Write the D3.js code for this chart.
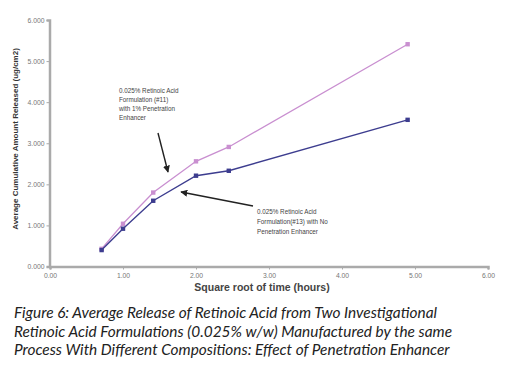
<!DOCTYPE html>
<html><head><meta charset="utf-8">
<script src="https://cdn.jsdelivr.net/npm/d3@7"></script>
<style>body{margin:0;background:#fff}svg{display:block}</style>
</head><body>
<script>
const xValues = [0.707, 1.0, 1.414, 2.0, 2.449, 4.899];
const enhancerValues = [0.43, 1.04, 1.80, 2.56, 2.91, 5.41];
const noEnhancerValues = [0.40, 0.92, 1.60, 2.21, 2.33, 3.57];
const xTicks = [0, 1, 2, 3, 4, 5, 6];
const yTicks = [0, 1, 2, 3, 4, 5, 6];
const yTitle = "Average Cumulative Amount Released (ug/cm2)";
const xTitle = "Square root of time (hours)";
const note1 = ["0.025% Retinoic Acid", "Formulation (#11)", "with 1% Penetration", "Enhancer"];
const note2 = ["0.025% Retinoic Acid", "Formulation(#13) with No", "Penetration Enhancer"];
const caption = ["Figure 6: Average Release of Retinoic Acid from Two Investigational",
  "Retinoic Acid Formulations (0.025% w/w) Manufactured by the same",
  "Process With Different Compositions: Effect of Penetration Enhancer"];

const W = 526, H = 366;
const svg = d3.select("body").append("svg").attr("width", W).attr("height", H);
const x = d3.scaleLinear().domain([0, 6]).range([50, 488]);
const y = d3.scaleLinear().domain([0, 6]).range([266.5, 20]);

const axisColor = "#aaa";
const gx = svg.append("g").attr("transform", "translate(0,266.5)")
  .call(d3.axisBottom(x).tickValues(xTicks).tickFormat(d3.format(".2f")).tickSize(3).tickPadding(4));
const gy = svg.append("g").attr("transform", "translate(49.5,0)")
  .call(d3.axisLeft(y).tickValues(yTicks).tickFormat(d3.format(".3f")).tickSize(3).tickPadding(2));
[gx, gy].forEach(g => {
  g.select(".domain").attr("stroke", axisColor).attr("stroke-width", 2.5);
  g.selectAll(".tick line").attr("stroke", axisColor).attr("stroke-width", 1);
  g.selectAll(".tick text").attr("fill", "#777").style("font-family", "Liberation Sans, Arial, sans-serif").style("font-size", "6.8px");
});

svg.append("text").attr("transform", "translate(18,139) rotate(-90)")
  .attr("text-anchor", "middle").style("font-family", "Liberation Sans, Arial, sans-serif")
  .style("font-size", "8px").style("font-weight", "bold").attr("fill", "#333").text(yTitle);
svg.append("text").attr("x", 262).attr("y", 291).attr("text-anchor", "middle")
  .style("font-family", "Liberation Sans, Arial, sans-serif").style("font-size", "10.5px")
  .style("font-weight", "bold").attr("fill", "#444").text(xTitle);

function series(vals, color, w) {
  const pts = xValues.map((v, i) => [v, vals[i]]);
  svg.append("path").datum(pts).attr("fill", "none").attr("stroke", color).attr("stroke-width", w)
    .attr("d", d3.line().x(d => x(d[0])).y(d => y(d[1])));
  svg.append("g").selectAll("rect").data(pts).join("rect")
    .attr("x", d => x(d[0]) - 2.2).attr("y", d => y(d[1]) - 2.2).attr("width", 4.4).attr("height", 4.4)
    .attr("fill", color);
}
series(enhancerValues, "#c98fd0", 1.3);
series(noEnhancerValues, "#3d3d8f", 1.4);

const defs = svg.append("defs");
defs.append("marker").attr("id", "ah").attr("viewBox", "0 0 10 10").attr("refX", 9).attr("refY", 5)
  .attr("markerWidth", 5).attr("markerHeight", 5).attr("orient", "auto")
  .append("path").attr("d", "M0,0L10,5L0,10z").attr("fill", "#222");

svg.append("line").attr("x1", 158).attr("y1", 133).attr("x2", 168).attr("y2", 172)
  .attr("stroke", "#222").attr("stroke-width", 1.4).attr("marker-end", "url(#ah)");
svg.append("line").attr("x1", 253).attr("y1", 206).attr("x2", 181).attr("y2", 192)
  .attr("stroke", "#222").attr("stroke-width", 1.4).attr("marker-end", "url(#ah)");

const nf = "Liberation Sans, Arial, sans-serif";
svg.append("g").selectAll("text").data(note1).join("text")
  .attr("x", 119).attr("y", (d, i) => 93 + i * 9).style("font-family", nf).style("font-size", "6.3px")
  .attr("fill", "#444").text(d => d);
svg.append("g").selectAll("text").data(note2).join("text")
  .attr("x", 257).attr("y", (d, i) => 214 + i * 10).style("font-family", nf).style("font-size", "6.3px")
  .attr("fill", "#444").text(d => d);

svg.append("g").selectAll("text").data(caption).join("text")
  .attr("x", 14).attr("y", (d, i) => 318 + i * 18.5)
  .style("font-family", "Lato, sans-serif").style("font-style", "italic").style("font-size", "15.4px")
  .attr("fill", "#222").text(d => d);
</script>
</body></html>
